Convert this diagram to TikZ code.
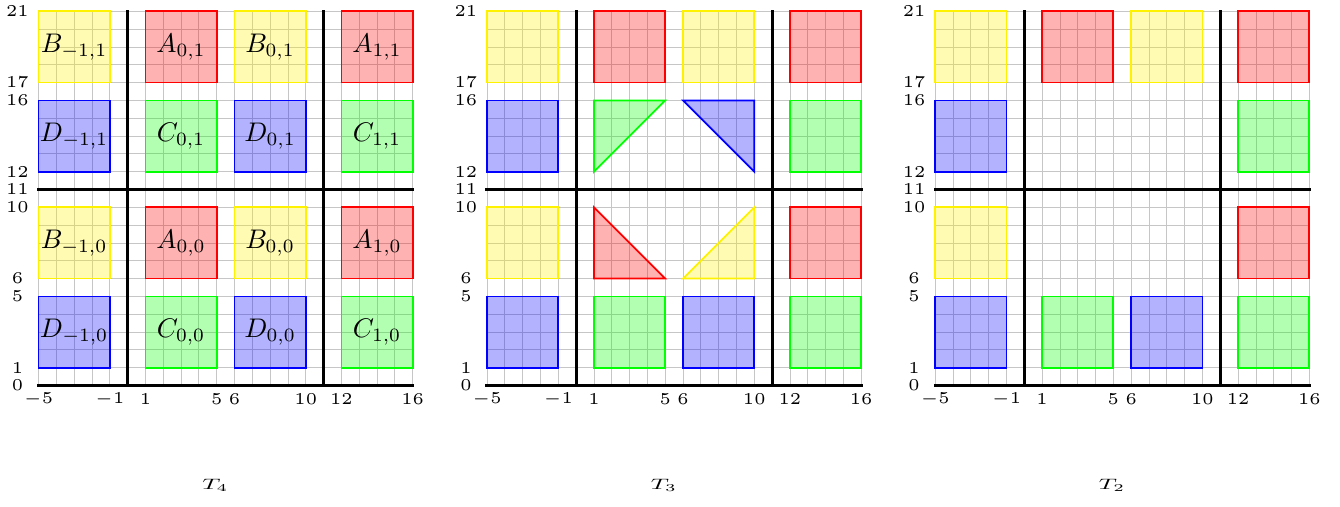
\documentclass[tikz,border=0pt]{standalone}
\tikzset{
  gridline/.style={gray!45, line width=0.6pt},
  axisline/.style={black, line width=2.5pt, line cap=rect},
  sqA/.style={draw=red, fill=red, fill opacity=0.3, line width=1.4pt},
  sqB/.style={draw=yellow, fill=yellow, fill opacity=0.3, line width=1.4pt},
  sqC/.style={draw=green, fill=green, fill opacity=0.3, line width=1.4pt},
  sqD/.style={draw=blue, fill=blue, fill opacity=0.3, line width=1.4pt},
  ticklab/.style={font=\tiny, scale=2.65, inner sep=0pt},
  boxlab/.style={font=\normalsize, scale=2.15, inner sep=0pt},
  titlelab/.style={font=\normalsize, xscale=2.0, yscale=1.2, inner sep=0pt},
}
\newcommand\mysq[3]{\filldraw[#1] (#2,#3) rectangle ++(4,4);}
\newcommand\panelgrid{\draw[gridline, step=0.5cm] (-5,0) grid (16,21);}
\newcommand\panelaxes[1]{%
  \draw[axisline] (-5,0) -- (16,0);
  \draw[axisline] (-5,11) -- (16,11);
  \draw[axisline] (0,0) -- (0,21);
  \draw[axisline] (11,0) -- (11,21);
  \foreach \y in {0,1,5,6,10,11,12,16,17,21}
    \node[ticklab] (#1y\y) at (-6.18,\y) {$\y$};
  \foreach \x/\n in {-5/m5,-1/m1,1/p1,5/p5,6/p6,10/p10,12/p12,16/p16}
    \node[ticklab] (#1x\n) at (\x,-0.75) {$\x$};
}
\begin{document}
\begin{tikzpicture}[x=0.5cm,y=0.5cm]
\useasboundingbox (-7.16,-6.79) rectangle (68.04,21.634);

% ---------- Panel T4 ----------
\begin{scope}
  \panelgrid
  \mysq{sqB}{-5}{17} \mysq{sqA}{1}{17} \mysq{sqB}{6}{17} \mysq{sqA}{12}{17}
  \mysq{sqD}{-5}{12} \mysq{sqC}{1}{12} \mysq{sqD}{6}{12} \mysq{sqC}{12}{12}
  \mysq{sqB}{-5}{6}  \mysq{sqA}{1}{6}  \mysq{sqB}{6}{6}  \mysq{sqA}{12}{6}
  \mysq{sqD}{-5}{1}  \mysq{sqC}{1}{1}  \mysq{sqD}{6}{1}  \mysq{sqC}{12}{1}
  \panelaxes{a}
  \node[boxlab] (Bm11) at (-3,19) {$B_{-1,1}$};
  \node[boxlab] (A01)  at (3,19)  {$A_{0,1}$};
  \node[boxlab] (B01)  at (8,19)  {$B_{0,1}$};
  \node[boxlab] (A11)  at (14,19) {$A_{1,1}$};
  \node[boxlab] (Dm11) at (-3,14) {$D_{-1,1}$};
  \node[boxlab] (C01)  at (3,14)  {$C_{0,1}$};
  \node[boxlab] (D01)  at (8,14)  {$D_{0,1}$};
  \node[boxlab] (C11)  at (14,14) {$C_{1,1}$};
  \node[boxlab] (Bm10) at (-3,8)  {$B_{-1,0}$};
  \node[boxlab] (A00)  at (3,8)   {$A_{0,0}$};
  \node[boxlab] (B00)  at (8,8)   {$B_{0,0}$};
  \node[boxlab] (A10)  at (14,8)  {$A_{1,0}$};
  \node[boxlab] (Dm10) at (-3,3)  {$D_{-1,0}$};
  \node[boxlab] (C00)  at (3,3)   {$C_{0,0}$};
  \node[boxlab] (D00)  at (8,3)   {$D_{0,0}$};
  \node[boxlab] (C10)  at (14,3)  {$C_{1,0}$};
  \node[titlelab] (T4) at (4.92,-5.6) {$T_4$};
\end{scope}

% ---------- Panel T3 ----------
\begin{scope}[shift={(25.17,0)}]
  \panelgrid
  \mysq{sqB}{-5}{17} \mysq{sqA}{1}{17} \mysq{sqB}{6}{17} \mysq{sqA}{12}{17}
  \mysq{sqD}{-5}{12} \mysq{sqC}{12}{12}
  \filldraw[sqC] (1,12) -- (1,16) -- (5,16) -- cycle;
  \filldraw[sqD] (6,16) -- (10,16) -- (10,12) -- cycle;
  \mysq{sqB}{-5}{6} \mysq{sqA}{12}{6}
  \filldraw[sqA] (1,10) -- (1,6) -- (5,6) -- cycle;
  \filldraw[sqB] (6,6) -- (10,6) -- (10,10) -- cycle;
  \mysq{sqD}{-5}{1}  \mysq{sqC}{1}{1}  \mysq{sqD}{6}{1}  \mysq{sqC}{12}{1}
  \panelaxes{b}
  \node[titlelab] (T3) at (4.92,-5.6) {$T_3$};
\end{scope}

% ---------- Panel T2 ----------
\begin{scope}[shift={(50.32,0)}]
  \panelgrid
  \mysq{sqB}{-5}{17} \mysq{sqA}{1}{17} \mysq{sqB}{6}{17} \mysq{sqA}{12}{17}
  \mysq{sqD}{-5}{12} \mysq{sqC}{12}{12}
  \mysq{sqB}{-5}{6}  \mysq{sqA}{12}{6}
  \mysq{sqD}{-5}{1}  \mysq{sqC}{1}{1}  \mysq{sqD}{6}{1}  \mysq{sqC}{12}{1}
  \panelaxes{c}
  \node[titlelab] (T2) at (4.92,-5.6) {$T_2$};
\end{scope}
\end{tikzpicture}
\end{document}
